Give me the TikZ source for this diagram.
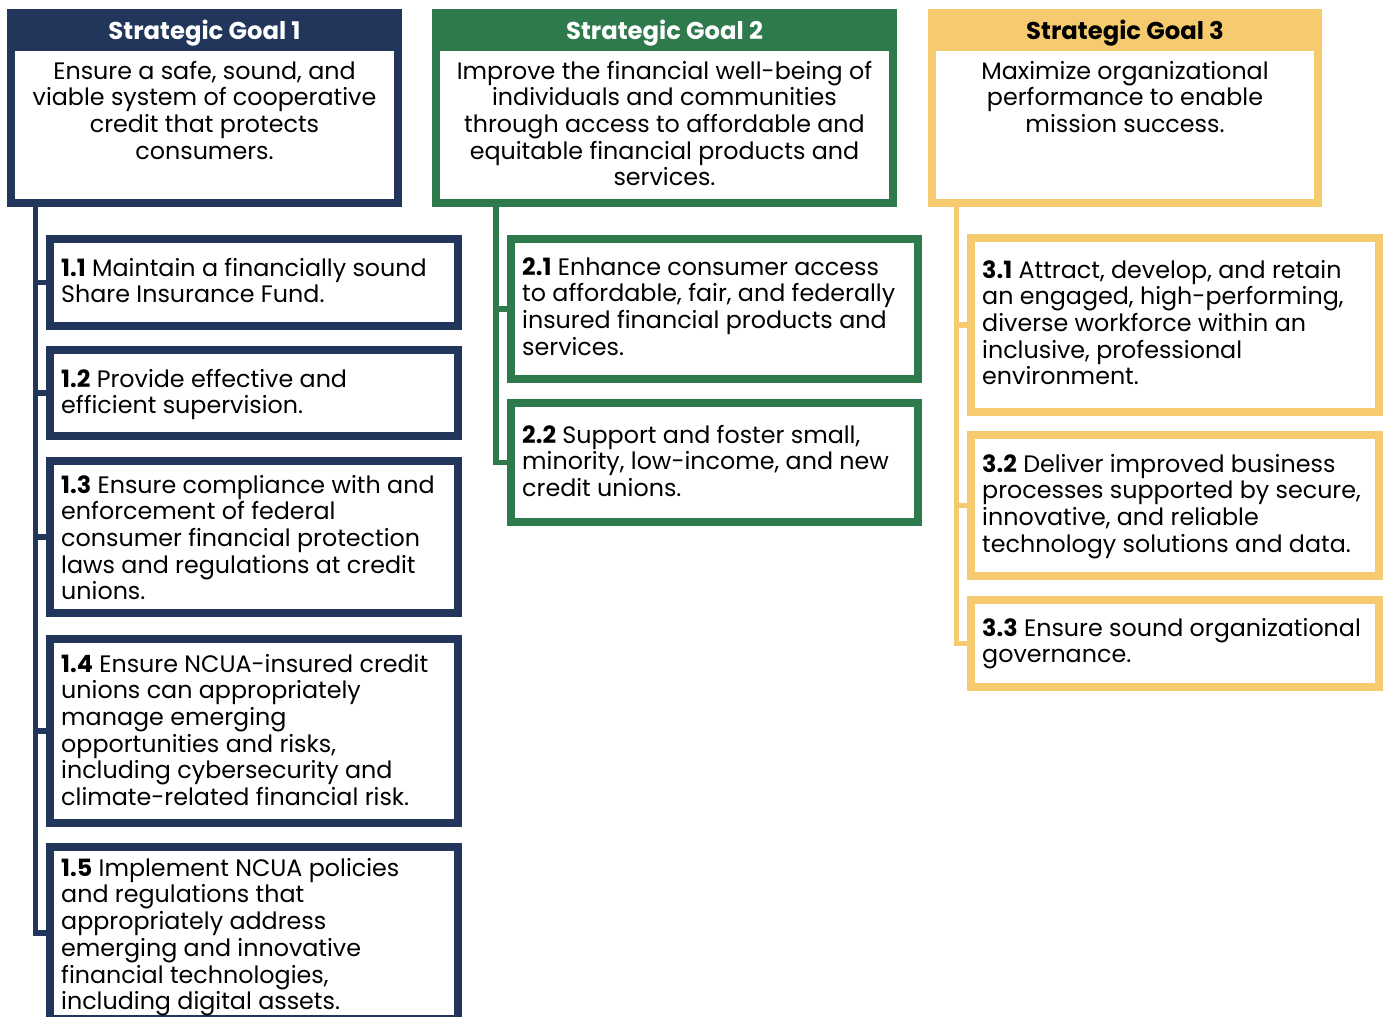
\documentclass[tikz,border=0pt]{standalone}
\usepackage{fontspec}
\setmainfont{Poppins}
\definecolor{navy}{HTML}{22355A}
\definecolor{ngreen}{HTML}{2F7A4D}
\definecolor{gold}{HTML}{F6CB6F}
\tikzset{
  box/.style={draw=#1, line width=8pt, outer sep=4pt, fill=white, anchor=north west, inner sep=0pt},
  band/.style={fill=#1, draw=none},
  title/.style={font=\fontsize{24.3}{27}\selectfont\bfseries, anchor=base, inner sep=0pt},
  goaltxt/.style={font=\fontsize{23.8}{26.7}\selectfont, align=center, anchor=north, inner sep=0pt},
  objtxt/.style={font=\fontsize{23.8}{26.7}\selectfont, align=left, anchor=north west, inner sep=0pt},
  conn/.style={draw=#1, line width=5.5pt}
}
\begin{document}
\begin{tikzpicture}[x=1pt,y=-1pt]
\useasboundingbox (0,0) rectangle (1385,1017);
\clip (0,0) rectangle (1385,1017);

% goal boxes
\node[box=navy, minimum width=387pt, minimum height=190pt] (g1) at (7,9) {};
\node[box=ngreen, minimum width=457pt, minimum height=190pt] (g2) at (432,9) {};
\node[box=gold, minimum width=386pt, minimum height=190pt] (g3) at (928,9) {};
\path[band=navy] (g1.north west) rectangle (402,51);
\path[band=ngreen] (g2.north west) rectangle (897,51);
\path[band=gold] (g3.north west) rectangle (1322,51);

% objective boxes
\node[box=navy, minimum width=408pt, minimum height=87pt] (b11) at (46,235) {};
\node[box=navy, minimum width=408pt, minimum height=86pt] (b12) at (46,346) {};
\node[box=navy, minimum width=408pt, minimum height=152pt] (b13) at (46,457) {};
\node[box=navy, minimum width=408pt, minimum height=184pt] (b14) at (46,635) {};
\node[box=navy, minimum width=408pt, minimum height=172pt] (b15) at (46,843) {};
\node[box=ngreen, minimum width=407pt, minimum height=140pt] (b21) at (507,235) {};
\node[box=ngreen, minimum width=407pt, minimum height=119pt] (b22) at (507,399) {};
\node[box=gold, minimum width=408pt, minimum height=174pt] (b31) at (967,234) {};
\node[box=gold, minimum width=408pt, minimum height=141pt] (b32) at (967,431) {};
\node[box=gold, minimum width=408pt, minimum height=87pt] (b33) at (967,596) {};

% connectors
\foreach \b in {b11,b12,b13,b14,b15}
  \draw[conn=navy] ([xshift=28.5pt]g1.south west) |- (\b.west);
\foreach \b in {b21,b22}
  \draw[conn=ngreen] ([xshift=64pt]g2.south west) |- (\b.west);
\foreach \b in {b31,b32,b33}
  \draw[conn=gold] ([xshift=28.5pt]g3.south west) |- (\b.west);

% titles
\node[title, text=white] (h1) at (204.5,39) {Strategic Goal 1};
\node[title, text=white] (h2) at (664.5,39) {Strategic Goal 2};
\node[title, text=black] (h3) at (1125,39) {Strategic Goal 3};

% goal texts
\node[goaltxt] (t1) at (204.5,60.3) {\strut Ensure a safe, sound, and\\viable system of cooperative\\credit that protects\\consumers.};
\node[goaltxt] (t2) at (664.5,60.3) {\strut Improve the financial well-being of\\individuals and communities\\through access to affordable and\\equitable financial products and\\services.};
\node[goaltxt] (t3) at (1125,60.3) {\strut Maximize organizational\\performance to enable\\mission success.};

% objective texts
\node[objtxt] (t11) at (61,257.3) {\strut\textbf{1.1} Maintain a financially sound\\Share Insurance Fund.};
\node[objtxt] (t12) at (61,368.3) {\strut\textbf{1.2} Provide effective and\\efficient supervision.};
\node[objtxt] (t13) at (61,474.3) {\strut\textbf{1.3} Ensure compliance with and\\enforcement of federal\\consumer financial protection\\laws and regulations at credit\\unions.};
\node[objtxt] (t14) at (61,653.3) {\strut\textbf{1.4} Ensure NCUA-insured credit\\unions can appropriately\\manage emerging\\opportunities and risks,\\including cybersecurity and\\climate-related financial risk.};
\node[objtxt] (t15) at (61,857.3) {\strut\textbf{1.5} Implement NCUA policies\\and regulations that\\appropriately address\\emerging and innovative\\financial technologies,\\including digital assets.};
\node[objtxt] (t21) at (522,256.3) {\strut\textbf{2.1} Enhance consumer access\\to affordable, fair, and federally\\insured financial products and\\services.};
\node[objtxt] (t22) at (522,424.3) {\strut\textbf{2.2} Support and foster small,\\minority, low-income, and new\\credit unions.};
\node[objtxt] (t31) at (982,259.3) {\strut\textbf{3.1} Attract, develop, and retain\\an engaged, high-performing,\\diverse workforce within an\\inclusive, professional\\environment.};
\node[objtxt] (t32) at (982,453.3) {\strut\textbf{3.2} Deliver improved business\\processes supported by secure,\\innovative, and reliable\\technology solutions and data.};
\node[objtxt] (t33) at (982,617.3) {\strut\textbf{3.3} Ensure sound organizational\\governance.};
\end{tikzpicture}
\end{document}
